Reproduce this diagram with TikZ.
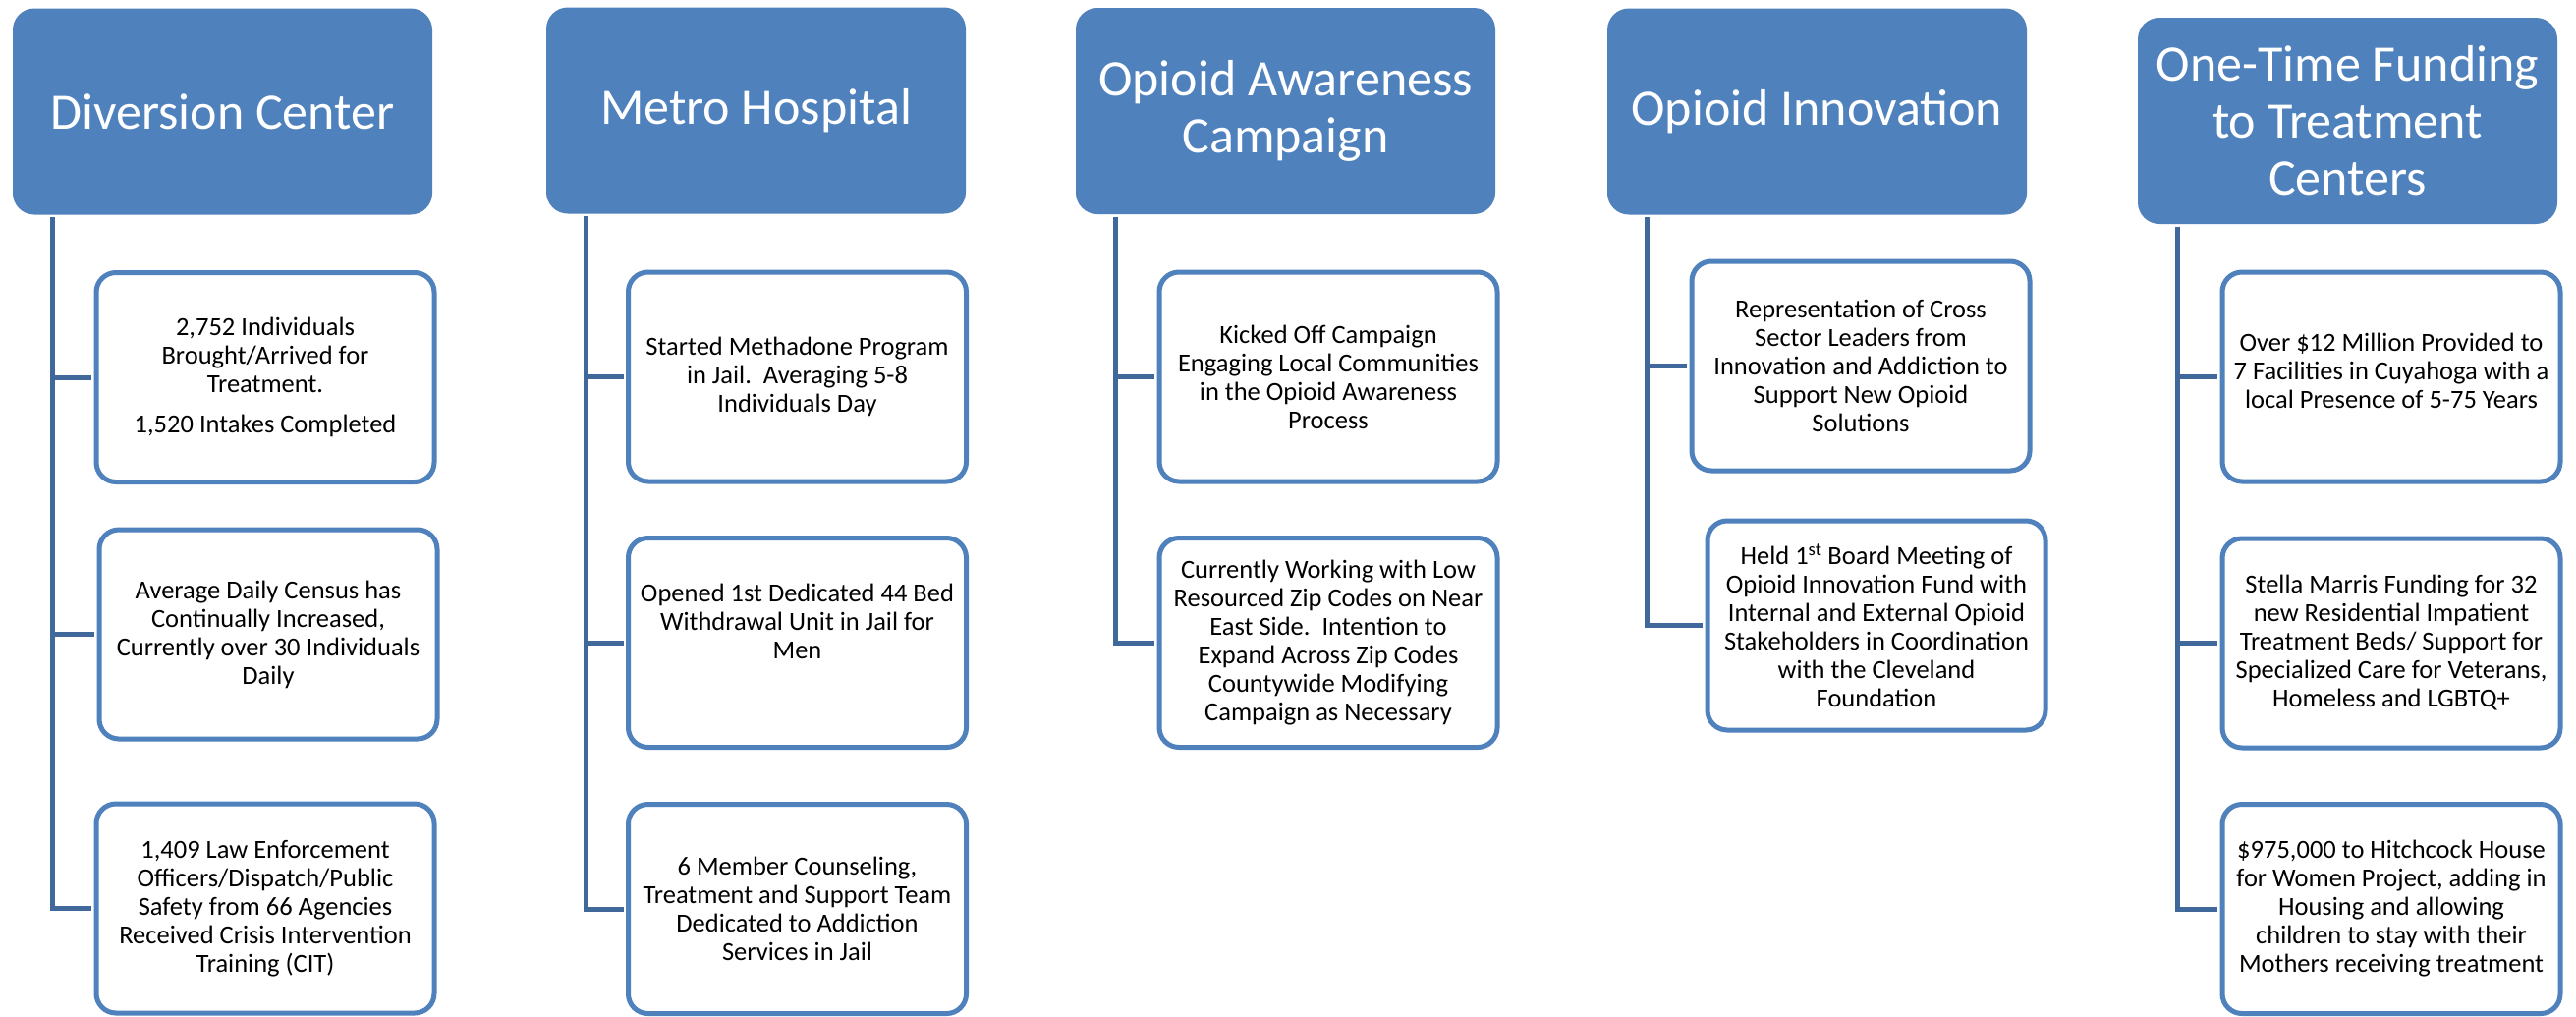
\documentclass[tikz,border=0pt]{standalone}
\usepackage{fontspec}
\setmainfont{Carlito}
\definecolor{hdr}{RGB}{79,129,189}
\definecolor{connc}{RGB}{65,104,155}
\begin{document}
\begin{tikzpicture}[x=1pt,y=-1pt,
  hdrbox/.style={fill=hdr, rounded corners=22pt, minimum width=427pt, minimum height=210pt, inner sep=0pt, text=white, align=center, font=\fontsize{52}{58}\selectfont},
  kidbox/.style={draw=hdr, line width=5pt, fill=white, rounded corners=20pt, minimum width=344pt, minimum height=213pt, inner sep=0pt},
  kidtext/.style={align=center, font=\fontsize{26.5}{29}\selectfont, text=black, inner sep=0pt},
  link/.style={draw=connc, line width=5pt, shorten >=2.5pt}]
\useasboundingbox (0,0) rectangle (2622,1034);
\fill[white] (0,0) rectangle (2622,1034);

% headers
\node[hdrbox] (h1) at (226.5,113.5) {Diversion Center};
\node[hdrbox] (h2) at (769.5,112.5) {Metro Hospital};
\node[hdrbox] (h3) at (1308.5,113) {Opioid Awareness\\Campaign};
\node[hdrbox] (h4) at (1849.5,113.5) {Opioid Innovation};
\node[hdrbox] (h5) at (2389.5,123) {One-Time Funding\\to Treatment\\Centers};

% trunk start points
\coordinate (v1) at ([xshift=40.5pt,yshift=-2.5pt]h1.south west);
\coordinate (v2) at ([xshift=40.5pt,yshift=-2.5pt]h2.south west);
\coordinate (v3) at ([xshift=40.5pt,yshift=-2.5pt]h3.south west);
\coordinate (v4) at ([xshift=40.5pt,yshift=-2.5pt]h4.south west);
\coordinate (v5) at ([xshift=40.5pt,yshift=-2.5pt]h5.south west);

% child boxes
\node[kidbox] (c11) at (270,384) {};
\node[kidbox] (c12) at (273,645.5) {};
\node[kidbox] (c13) at (270,924.5) {};
\node[kidbox] (c21) at (811.5,383.5) {};
\node[kidbox] (c22) at (811.5,654) {};
\node[kidbox] (c23) at (811.5,925) {};
\node[kidbox] (c31) at (1352,383.5) {};
\node[kidbox] (c32) at (1352,654) {};
\node[kidbox] (c41) at (1894,372.5) {};
\node[kidbox] (c42) at (1910,636.5) {};
\node[kidbox] (c51) at (2434,383.5) {};
\node[kidbox] (c52) at (2434,654.5) {};
\node[kidbox] (c53) at (2434,925) {};

% connectors
\foreach \k in {c11,c12,c13} \draw[link] (v1) |- (\k.west);
\foreach \k in {c21,c22,c23} \draw[link] (v2) |- (\k.west);
\foreach \k in {c31,c32} \draw[link] (v3) |- (\k.west);
\foreach \k in {c41,c42} \draw[link] (v4) |- (\k.west);
\foreach \k in {c51,c52,c53} \draw[link] (v5) |- (\k.west);

% texts
\node[kidtext] (t11) at (c11.center) {2,752 Individuals\\Brought/Arrived for\\Treatment.\\[12pt]1,520 Intakes Completed};
\node[kidtext] (t12) at (c12.center) {Average Daily Census has\\Continually Increased,\\Currently over 30 Individuals\\Daily};
\node[kidtext] (t13) at (c13.center) {1,409 Law Enforcement\\Officers/Dispatch/Public\\Safety from 66 Agencies\\Received Crisis Intervention\\Training (CIT)};
\node[kidtext] (t21) at (c21.center) {Started Methadone Program\\in Jail.\ \ Averaging 5-8\\Individuals Day};
\node[kidtext] (t22) at ([yshift=22pt]c22.center) {Opened 1st Dedicated 44 Bed\\Withdrawal Unit in Jail for\\Men};
\node[kidtext] (t23) at (c23.center) {6 Member Counseling,\\Treatment and Support Team\\Dedicated to Addiction\\Services in Jail};
\node[kidtext] (t31) at (c31.center) {Kicked Off Campaign\\Engaging Local Communities\\in the Opioid Awareness\\Process};
\node[kidtext] (t32) at (c32.center) {Currently Working with Low\\Resourced Zip Codes on Near\\East Side.\ \ Intention to\\Expand Across Zip Codes\\Countywide Modifying\\Campaign as Necessary};
\node[kidtext] (t41) at (c41.center) {Representation of Cross\\Sector Leaders from\\Innovation and Addiction to\\Support New Opioid\\Solutions};
\node[kidtext] (t42) at (c42.center) {Held 1\textsuperscript{st} Board Meeting of\\Opioid Innovation Fund with\\Internal and External Opioid\\Stakeholders in Coordination\\with the Cleveland\\Foundation};
\node[kidtext] (t51) at ([yshift=6pt]c51.center) {Over \$12 Million Provided to\\7 Facilities in Cuyahoga with a\\local Presence of 5-75 Years};
\node[kidtext] (t52) at (c52.center) {Stella Marris Funding for 32\\new Residential Impatient\\Treatment Beds/ Support for\\Specialized Care for Veterans,\\Homeless and LGBTQ+};
\node[kidtext] (t53) at (c53.center) {\$975,000 to Hitchcock House\\for Women Project, adding in\\Housing and allowing\\children to stay with their\\Mothers receiving treatment};
\end{tikzpicture}
\end{document}
